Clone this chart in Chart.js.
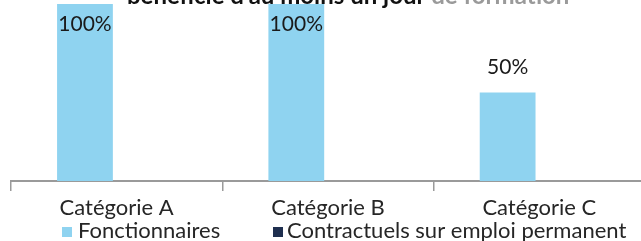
<!DOCTYPE html>
<html><head><meta charset="utf-8">
<script src="https://cdn.jsdelivr.net/npm/chart.js@4/dist/chart.umd.min.js"></script>
<style>
html,body{margin:0;padding:0;width:641px;height:241px;overflow:hidden;background:#fff;}
#wrap{position:absolute;left:0;top:-40px;width:660px;height:281px;}
</style></head><body>
<div id="wrap"><canvas id="c"></canvas></div>
<script>
const categories = ['Catégorie A', 'Catégorie B', 'Catégorie C'];
const seriesNames = ['Fonctionnaires', 'Contractuels sur emploi permanent'];
const fonctionnaires = [100, 100, 50];
const contractuels = [null, null, null];
const titleParts = ["bénéficié d'au moins un jour", "de formation"];

const FONT = 'Lato, "Open Sans", sans-serif';
const OFF = 40; // canvas is shifted up by 40px (title cut by the crop)

const valueLabels = {
  id: 'valueLabels',
  afterDatasetsDraw(chart) {
    const ctx = chart.ctx;
    ctx.save();
    ctx.font = '21px ' + FONT;
    ctx.fillStyle = '#1a1a1a';
    ctx.textAlign = 'center';
    ctx.textBaseline = 'alphabetic';
    chart.data.datasets.forEach((ds, di) => {
      const meta = chart.getDatasetMeta(di);
      meta.data.forEach((bar, i) => {
        const v = ds.data[i];
        if (v == null) return;
        const y = Math.max(bar.y - 19, chart.chartArea.top + 27);
        ctx.fillText(v + '%', bar.x, y);
      });
    });
    ctx.restore();
  }
};

const cutTitle = {
  id: 'cutTitle',
  afterDraw(chart) {
    const ctx = chart.ctx;
    ctx.save();
    ctx.font = 'bold 24px ' + FONT;
    ctx.textBaseline = 'alphabetic';
    const x = 127, y = OFF + 4;
    const first = titleParts[0] + ' ';
    ctx.fillStyle = '#111';
    ctx.fillText(first, x, y);
    ctx.fillStyle = '#9a9a9a';
    ctx.fillText(titleParts[1], x + ctx.measureText(first).width, y);
    ctx.restore();
  }
};

const bottomLegend = {
  id: 'bottomLegend',
  afterDraw(chart) {
    const ctx = chart.ctx;
    ctx.save();
    ctx.font = '22px ' + FONT;
    ctx.textBaseline = 'alphabetic';
    const starts = [62, 273];
    const boxTop = OFF + 227, base = OFF + 238, box = 10;
    chart.data.datasets.forEach((ds, i) => {
      const x = starts[i];
      ctx.fillStyle = ds.backgroundColor;
      ctx.fillRect(x, boxTop, box, box);
      const tx = x + box + (i === 0 ? 6 : 4);
      ctx.fillStyle = '#262626';
      ctx.fillText(ds.label, tx, base);
    });
    ctx.restore();
  }
};

new Chart(document.getElementById('c'), {
  type: 'bar',
  data: {
    labels: categories,
    datasets: [
      { label: seriesNames[0], data: fonctionnaires, backgroundColor: '#8fd3f0',
        categoryPercentage: 0.6, barPercentage: 0.88 },
      { label: seriesNames[1], data: contractuels, backgroundColor: '#1f2f4f',
        categoryPercentage: 0.6, barPercentage: 0.88 }
    ]
  },
  options: {
    responsive: true,
    maintainAspectRatio: false,
    animation: false,
    devicePixelRatio: 1,
    layout: { padding: { left: 11, right: 15, top: OFF + 4, bottom: 0 } },
    plugins: { legend: { display: false }, tooltip: { enabled: false }, title: { display: false } },
    scales: {
      x: {
        grid: { display: true, drawOnChartArea: false, drawTicks: true, tickLength: 10,
                color: '#9a9a9a', lineWidth: 1.5, offset: true },
        border: { display: true, color: '#9a9a9a', width: 2 },
        ticks: { font: { family: FONT, size: 22 }, color: '#262626', padding: 4 },
        afterFit(scale) { scale.height = 60; }
      },
      y: { display: false, min: 0, max: 100 }
    }
  },
  plugins: [valueLabels, cutTitle, bottomLegend]
});
</script>
</body></html>
